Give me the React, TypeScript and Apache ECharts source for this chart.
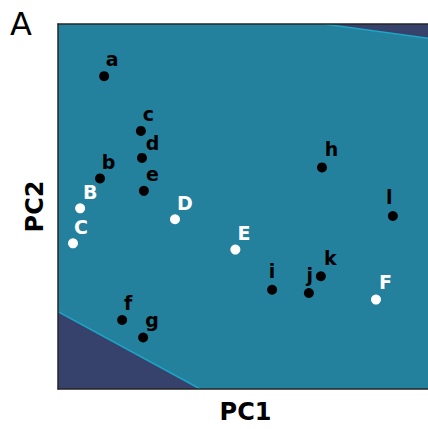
import { useEffect, useRef } from "react";
import * as echarts from "echarts";

// Black (lower-case) samples
const blackNames = ["a", "b", "c", "d", "e", "f", "g", "h", "i", "j", "k", "l"];
const blackPC1 = [1.23, 1.12, 2.21, 2.24, 2.29, 1.71, 2.27, 7.04, 5.71, 6.69, 7.01, 8.93];
const blackPC2 = [8.57, 5.77, 7.07, 6.33, 5.43, 1.89, 1.41, 6.07, 2.72, 2.63, 3.09, 4.74];

// White (upper-case) samples
const whiteNames = ["B", "C", "D", "E", "F"];
const whitePC1 = [0.59, 0.4, 3.12, 4.73, 8.48];
const whitePC2 = [4.95, 3.99, 4.65, 3.82, 2.45];

// Decision regions (dark), in PC1/PC2 units; first two points = boundary
const lowerRegion = [[0, 2.12], [3.79, 0], [0, 0]];
const upperRegion = [[7.09, 10], [10.2, 9.56], [10.2, 10]];

// Label placement (layout only)
const labelOffsets: Record<string, [number, number]> = {
  a: [8, -17], b: [8.5, -16.5], c: [7.5, -17], d: [10.5, -14.5], e: [8.5, -17],
  f: [6, -17], g: [9, -18], h: [9.5, -18], i: [0, -18.5], j: [1, -18],
  k: [9.5, -18], l: [-3.5, -18.5],
  B: [10, -16.5], C: [8, -16.5], D: [10, -16.5], E: [8.5, -17], F: [9.5, -17.5],
};

const TEAL = "#23819d";
const NAVY = "#36426c";
const CYAN = "#1ea5c6";
const FRAME = "#262626";
const FONT = "DejaVu Sans";
const X_MAX = 9.867; // visible part of the PC1 range (frame continues off-page)

export default function App() {
  const ref = useRef<HTMLDivElement>(null);
  useEffect(() => {
    document.body.style.margin = "0";
    if (!ref.current) return;
    const chart = echarts.init(ref.current, undefined, { renderer: "svg" });

    const regionSeries = (pts: number[][]) => ({
      type: "custom",
      coordinateSystem: "cartesian2d",
      data: [[0, 0]],
      silent: true,
      clip: true,
      z: 1,
      renderItem: (_params: any, api: any) => {
        const p = pts.map((q) => api.coord(q));
        return {
          type: "group",
          children: [
            { type: "polygon", shape: { points: p }, style: { fill: NAVY } },
            {
              type: "polyline",
              shape: { points: [p[0], p[1]] },
              style: { stroke: CYAN, lineWidth: 1.5, fill: null },
            },
          ],
        };
      },
    });

    const mk = (names: string[], xs: number[], ys: number[], color: string) =>
      names.map((n, i) => ({
        name: n,
        value: [xs[i], ys[i]],
        itemStyle: { color, opacity: 1 },
        label: { offset: labelOffsets[n], color },
      }));

    const frameAxis = {
      min: 0,
      type: "value" as const,
      axisTick: { show: false },
      axisLabel: { show: false },
      splitLine: { show: false },
      axisLine: { show: true, lineStyle: { color: FRAME, width: 1.5 } },
      z: 5,
    };
    const nameStyle = { fontFamily: FONT, fontWeight: "bold" as const, fontSize: 24, color: "#000" };

    chart.setOption({
      animation: false,
      grid: {
        left: 58,
        top: 24,
        right: 0,
        height: 366,
        show: true,
        backgroundColor: TEAL,
        borderWidth: 0,
      },
      graphic: [
        {
          type: "text",
          left: 10,
          top: 8,
          style: { text: "A", font: `32px ${FONT}`, fill: "#000" },
        },
      ],
      xAxis: [
        {
          ...frameAxis,
          max: X_MAX,
          position: "bottom",
          name: "PC1",
          nameLocation: "middle",
          nameGap: 11,
          nameTextStyle: { ...nameStyle, padding: [0, 0, 0, 5] },
        },
        { ...frameAxis, max: X_MAX, position: "top" },
      ],
      yAxis: [
        {
          ...frameAxis,
          max: 10,
          position: "left",
          name: "PC2",
          nameLocation: "middle",
          nameGap: 11,
          nameTextStyle: nameStyle,
        },
      ],
      series: [
        regionSeries(lowerRegion),
        regionSeries(upperRegion),
        {
          type: "scatter",
          z: 6,
          symbolSize: 10,
          itemStyle: { opacity: 1 },
          data: [
            ...mk(blackNames, blackPC1, blackPC2, "#000000"),
            ...mk(whiteNames, whitePC1, whitePC2, "#ffffff"),
          ],
          label: {
            show: true,
            position: "inside",
            formatter: "{b}",
            fontFamily: FONT,
            fontWeight: "bold",
            fontSize: 19,
          },
        },
      ],
    });
    return () => chart.dispose();
  }, []);
  return <div ref={ref} style={{ width: 428, height: 429 }} />;
}
